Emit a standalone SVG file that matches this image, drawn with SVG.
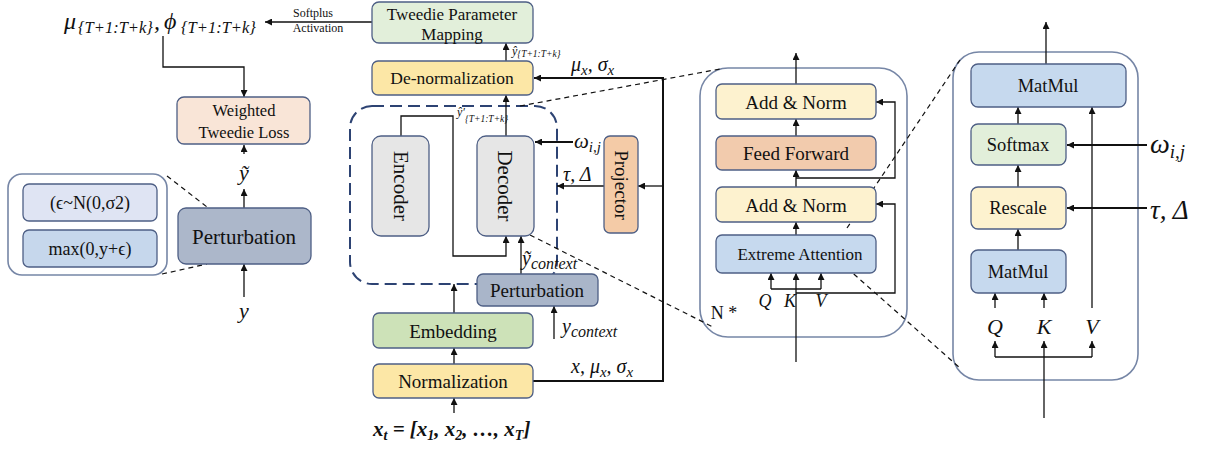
<svg xmlns="http://www.w3.org/2000/svg" width="1211" height="449" viewBox="0 0 1211 449">
<style>
.box{stroke:#4e5f85;stroke-width:1.3}
.t{font-family:"Liberation Serif","Times New Roman",serif;fill:#111;text-anchor:middle;dominant-baseline:central}
.m{font-family:"Liberation Serif","DejaVu Serif",serif;font-style:italic;fill:#111}
.c{fill:none;stroke:#111;stroke-width:1.3}
.thick{stroke-width:2}
.d{fill:none;stroke:#111;stroke-width:1.2;stroke-dasharray:5 4}
.grp{fill:#fff;stroke:#7686a6;stroke-width:1.6}
</style>
<defs>
<marker id="a" viewBox="0 0 8 8" refX="8" refY="4" markerWidth="7" markerHeight="7" markerUnits="userSpaceOnUse" orient="auto"><path d="M0,0 L8,4 L0,8 z" fill="#111"/></marker>
</defs>
<rect width="1211" height="449" fill="#fff"/>

<!-- group containers -->
<g id="left-detail">
<rect class="grp" x="8" y="174" width="159" height="101" rx="14"/>
<g id="noise"><rect class="box" x="23" y="184" width="134" height="37" rx="6" fill="#dfe4f3"/><text class="t" x="90" y="203" font-size="18">(ϵ~N(0,σ2)</text></g>
<g id="clip"><rect class="box" x="23" y="230" width="134" height="37" rx="6" fill="#c6d7ec"/><text class="t" x="90" y="249" font-size="18">max(0,y+ϵ)</text></g>
</g>
<rect id="dashed-block" x="350" y="106" width="207" height="178" rx="22" fill="none" stroke="#2d4373" stroke-width="2" stroke-dasharray="12 6"/>
<rect id="attn-block" class="grp" x="700" y="68" width="207" height="269" rx="28"/>
<rect id="extreme-block" class="grp" x="953" y="52" width="185" height="328" rx="26"/>

<g id="connectors">
<path class="c" marker-end="url(#a)" d="M372,22 L265,22"/>
<path class="c" marker-end="url(#a)" d="M163,36 L163,67 L244,67 L244,97"/>
<path class="c" marker-end="url(#a)" d="M244,154 L244,145"/>
<path class="c" marker-end="url(#a)" d="M244,208 L244,189"/>
<path class="c" marker-end="url(#a)" d="M244,297 L244,264"/>
<path class="d" d="M167,176 L207,207"/>
<path class="d" d="M162,274 L207,264"/>
<path class="c" marker-end="url(#a)" d="M506,61 L506,43"/>
<path class="c" marker-end="url(#a)" d="M506,136 L506,95"/>
<path class="c thick" marker-end="url(#a)" d="M533,381 L663,381 L663,78 L534,78"/>
<path class="c" marker-end="url(#a)" d="M663,186 L638,186"/>
<path class="c" marker-end="url(#a)" d="M604,186 L557,186"/>
<path class="c thick" marker-end="url(#a)" d="M573,142 L535,142"/>
<path class="c" marker-end="url(#a)" d="M401,136 L401,116 L453,116 L453,256 L506,256 L506,236"/>
<path class="c" marker-end="url(#a)" d="M521,274 L521,236"/>
<path class="c" marker-end="url(#a)" d="M554,339 L554,306"/>
<path class="c" marker-end="url(#a)" d="M454,313 L454,284"/>
<path class="c" marker-end="url(#a)" d="M454,364 L454,348"/>
<path class="c" marker-end="url(#a)" d="M454,413 L454,398"/>
<path class="d" d="M520,106 L720,69"/>
<path class="d" d="M530,235 L713,327"/>
<path class="c" marker-end="url(#a)" d="M796,84 L796,53"/>
<path class="c" marker-end="url(#a)" d="M796,136 L796,119"/>
<path class="c" marker-end="url(#a)" d="M796,187 L796,170"/>
<path class="c" marker-end="url(#a)" d="M796,178 L895,178 L895,102 L876,102"/>
<path class="c" marker-end="url(#a)" d="M796,235 L796,222"/>
<path class="c" marker-end="url(#a)" d="M796,293 L895,293 L895,204 L876,204"/>
<path class="c" marker-end="url(#a)" d="M796,362 L796,273"/>
<path class="c" d="M771,289 L821,289"/>
<path class="c" marker-end="url(#a)" d="M771,289 L771,273"/>
<path class="c" marker-end="url(#a)" d="M821,289 L821,273"/>
<path class="d" d="M847,228 L960,60"/>
<path class="d" d="M847,268 L960,368"/>
<path class="c" marker-end="url(#a)" d="M1046,64 L1046,22"/>
<path class="c" marker-end="url(#a)" d="M1018,124 L1018,107"/>
<path class="c" marker-end="url(#a)" d="M1018,187 L1018,165"/>
<path class="c" marker-end="url(#a)" d="M1018,250 L1018,229"/>
<path class="c thick" marker-end="url(#a)" d="M1147,145 L1067,145"/>
<path class="c thick" marker-end="url(#a)" d="M1147,208 L1067,208"/>
<path class="c" marker-end="url(#a)" d="M1092,308 L1092,107"/>
<path class="c" marker-end="url(#a)" d="M995,308 L995,293"/>
<path class="c" marker-end="url(#a)" d="M1044,308 L1044,293"/>
<path class="c" d="M995,357 L1092,357"/>
<path class="c" marker-end="url(#a)" d="M995,357 L995,341"/>
<path class="c" marker-end="url(#a)" d="M1092,357 L1092,341"/>
<path class="c" marker-end="url(#a)" d="M1044,418 L1044,341"/>
</g>

<!-- left column -->
<g id="loss"><rect class="box" x="177" y="97" width="133" height="47" rx="7" fill="#f9e5d7"/><text class="t" x="244" y="110" font-size="16.5">Weighted</text><text class="t" x="244" y="132" font-size="16.5">Tweedie Loss</text></g>
<g id="perturbation-left"><rect class="box" x="178" y="208" width="133" height="56" rx="8" fill="#acb7ca"/><text class="t" x="244" y="237" font-size="21">Perturbation</text></g>

<!-- middle column -->
<g id="tweedie-map"><rect class="box" x="372" y="2" width="161" height="41" rx="7" fill="#e2efda"/><text class="t" x="452" y="14" font-size="17">Tweedie Parameter</text><text class="t" x="452" y="34" font-size="17">Mapping</text></g>
<g id="denorm"><rect class="box" x="372" y="61" width="161" height="34" rx="6" fill="#fce7a6"/><text class="t" x="452" y="78" font-size="17.5">De-normalization</text></g>
<g id="encoder"><rect class="box" x="372" y="136" width="57" height="100" rx="9" fill="#e6e6e6"/><text class="t" font-size="21" transform="translate(401,186) rotate(90)">Encoder</text></g>
<g id="decoder"><rect class="box" x="477" y="136" width="57" height="100" rx="9" fill="#e6e6e6"/><text class="t" font-size="21" transform="translate(505,186) rotate(90)">Decoder</text></g>
<g id="projector"><rect class="box" x="604" y="136" width="34" height="97" rx="6" fill="#f4cba7"/><text class="t" font-size="19" transform="translate(621,185) rotate(90)">Projector</text></g>
<g id="perturbation-ctx"><rect class="box" x="477" y="274" width="121" height="32" rx="6" fill="#a9b5c9"/><text class="t" x="537" y="290" font-size="19">Perturbation</text></g>
<g id="embedding"><rect class="box" x="373" y="313" width="160" height="35" rx="6" fill="#cde2b8"/><text class="t" x="453" y="331" font-size="19">Embedding</text></g>
<g id="normalization"><rect class="box" x="373" y="364" width="160" height="34" rx="6" fill="#fce7a6"/><text class="t" x="453" y="381" font-size="19">Normalization</text></g>

<!-- attention block -->
<g id="addnorm1"><rect class="box" x="716" y="84" width="160" height="35" rx="6" fill="#fdf2cf"/><text class="t" x="796" y="102" font-size="19">Add &amp; Norm</text></g>
<g id="feedforward"><rect class="box" x="716" y="136" width="160" height="34" rx="6" fill="#f2cbad"/><text class="t" x="796" y="153" font-size="19">Feed Forward</text></g>
<g id="addnorm2"><rect class="box" x="716" y="187" width="160" height="35" rx="6" fill="#fdf2cf"/><text class="t" x="796" y="205" font-size="19">Add &amp; Norm</text></g>
<g id="extreme-attn"><rect class="box" x="716" y="235" width="160" height="38" rx="6" fill="#c6d9ee"/><text class="t" x="800" y="254" font-size="17">Extreme Attention</text></g>
<text class="t" x="724" y="313" font-size="18">N *</text>

<!-- extreme attention detail -->
<g id="matmul-top"><rect class="box" x="971" y="64" width="155" height="43" rx="7" fill="#c6d9ee"/><text class="t" x="1048" y="86" font-size="18.5">MatMul</text></g>
<g id="softmax"><rect class="box" x="971" y="124" width="95" height="41" rx="7" fill="#e2efda"/><text class="t" x="1018" y="145" font-size="18.5">Softmax</text></g>
<g id="rescale"><rect class="box" x="971" y="187" width="95" height="42" rx="7" fill="#fdf2cf"/><text class="t" x="1018" y="208" font-size="18.5">Rescale</text></g>
<g id="matmul-bottom"><rect class="box" x="971" y="250" width="95" height="43" rx="7" fill="#c6d9ee"/><text class="t" x="1018" y="272" font-size="18.5">MatMul</text></g>

<!-- math labels -->
<g id="labels">
<text class="m" y="29" font-size="24"><tspan x="64">μ</tspan><tspan x="78" dy="4" font-size="16.5">{T+1:T+k}</tspan><tspan x="154" dy="-4">,</tspan><tspan x="164">ϕ</tspan><tspan x="181" dy="4" font-size="16.5">{T+1:T+k}</tspan></text>
<text class="t" x="313" y="13" font-size="12">Softplus</text>
<text class="t" x="318" y="28" font-size="12">Activation</text>
<text class="m" x="244" y="180" font-size="22" text-anchor="middle">ỹ</text>
<text class="m" x="244" y="318" font-size="22" text-anchor="middle">y</text>
<text class="m" y="55" font-size="12"><tspan x="512">ŷ</tspan><tspan dy="2" font-size="9.5">{T+1:T+k}</tspan></text>
<text class="m" y="71" font-size="20"><tspan x="571">μ</tspan><tspan dy="4" font-size="15">x</tspan><tspan dy="-4">, σ</tspan><tspan dy="4" font-size="15">x</tspan></text>
<text class="m" y="116" font-size="12"><tspan x="457">ŷ′</tspan><tspan dy="6" font-size="9.5">{T+1:T+k}</tspan></text>
<text class="m" y="148" font-size="21"><tspan x="574">ω</tspan><tspan dy="4" font-size="15">i,j</tspan></text>
<text class="m" x="563" y="181" font-size="20">τ, Δ</text>
<text class="m" y="265" font-size="20"><tspan x="522">ỹ</tspan><tspan dy="4" font-size="16">context</tspan></text>
<text class="m" y="333" font-size="20"><tspan x="562">y</tspan><tspan dy="4" font-size="16">context</tspan></text>
<text class="m" y="373" font-size="20"><tspan x="571">x, μ</tspan><tspan dy="4" font-size="15">x</tspan><tspan dy="-4">, σ</tspan><tspan dy="4" font-size="15">x</tspan></text>
<text class="m" y="436" font-size="21" font-weight="bold"><tspan x="373">x</tspan><tspan dy="4" font-size="14">t</tspan><tspan dy="-4"> = [x</tspan><tspan dy="4" font-size="14">1</tspan><tspan dy="-4">, x</tspan><tspan dy="4" font-size="14">2</tspan><tspan dy="-4">, …, x</tspan><tspan dy="4" font-size="14">T</tspan><tspan dy="-4">]</tspan></text>
<text class="m" y="307" font-size="18" text-anchor="middle"><tspan x="765">Q</tspan><tspan x="790">K</tspan><tspan x="821">V</tspan></text>
<text class="m" y="334" font-size="22" text-anchor="middle"><tspan x="995">Q</tspan><tspan x="1044">K</tspan><tspan x="1092">V</tspan></text>
<text class="m" y="153" font-size="28"><tspan x="1150">ω</tspan><tspan dy="5" font-size="19">i,j</tspan></text>
<text class="m" x="1150" y="219" font-size="27">τ, Δ</text>
</g>
</svg>
